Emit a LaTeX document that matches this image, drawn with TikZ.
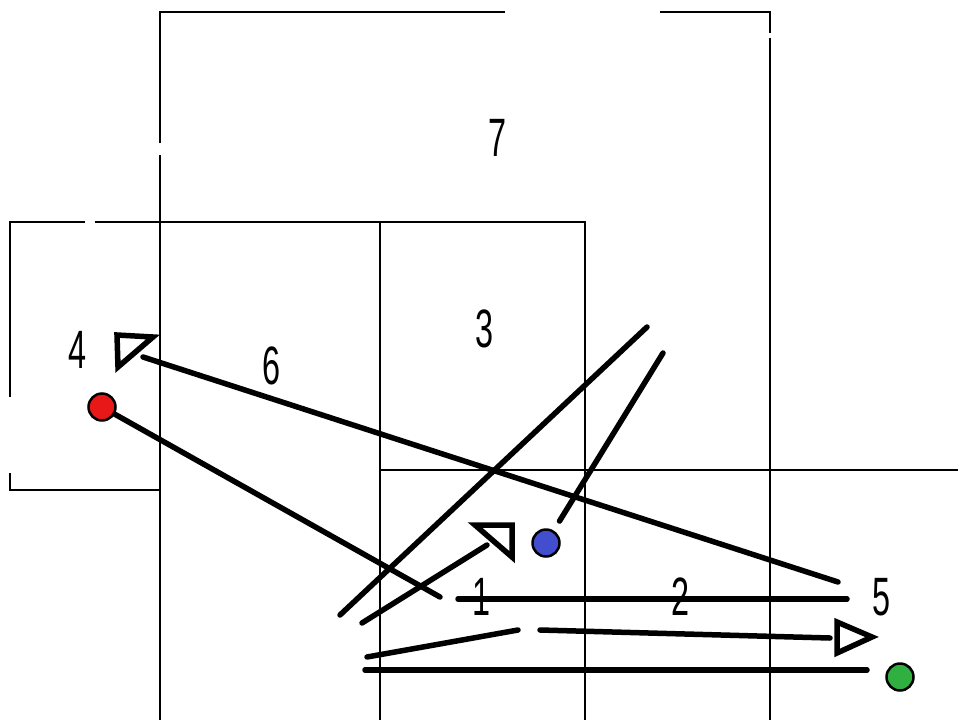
\documentclass[tikz,border=0pt]{standalone}
\usepackage{fontspec}
\setsansfont{Liberation Sans}
\usepackage{tikz}
\usetikzlibrary{positioning}
\definecolor{dotred}{RGB}{232,24,24}
\definecolor{dotblue}{RGB}{66,78,206}
\definecolor{dotgreen}{RGB}{48,176,64}

\begin{document}
\begin{tikzpicture}[x=1pt, y=-1pt,
  grid/.style={line width=1.8pt},
  stroke/.style={line width=5.5pt, line cap=round},
  head/.style={line width=5.5pt, line join=miter},
  numlbl/.style={font=\sffamily\fontsize{54}{60}\selectfont, xscale=0.6, inner sep=0pt},
  dot/.style={circle, draw=black, line width=2.5pt, minimum size=27pt, inner sep=0pt}]
\useasboundingbox (0,0) rectangle (958,720);
% frames
\draw[grid] (160,720) -- (160,155);
\draw[grid] (160,143) -- (160,12) -- (505,12);
\draw[grid, line width=2.5pt] (660,12) -- (770,12) -- (770,33);
\draw[grid] (770,38) -- (770,720);
\draw[grid] (10,397) -- (10,222) -- (85,222);
\draw[grid] (95,222) -- (585,222) -- (585,720);
\draw[grid] (10,473) -- (10,490) -- (160,490);
\draw[grid] (380,720) -- (380,222);
\draw[grid] (380,470) -- (958,470);
% numbers
\foreach \name/\x/\y in {7/498/138, 3/485/329, 4/78/350, 6/272/366, 1/482/597, 2/681/597, 5/881/597} {
  \node[numlbl] (lbl\name) at (\x,\y) {\name};
}
% dots
\node[dot, fill=dotred] (reddot) at (102,407) {};
\node[dot, fill=dotblue] (bluedot) at (546,543) {};
\node[dot, fill=dotgreen] (greendot) at (900,677) {};
% stroke ends
\coordinate (sixa) at (143,357);
\coordinate (sixb) at (838,582);
\coordinate (redend) at (440,597);
\coordinate (blueend) at (663,353);
\coordinate (diaga) at (340,615);
\coordinate (diagb) at (647,327);
\coordinate (upa) at (362,623);
\coordinate (upb) at (487,545);
\coordinate (onea) at (458,599);
\coordinate (twob) at (847,599);
\coordinate (lowa) at (367,657);
\coordinate (lowb) at (518,630);
\coordinate (righta) at (540,630);
\coordinate (rightb) at (830,638);
\coordinate (basea) at (365,670);
\coordinate (baseb) at (867,670);
% strokes
\draw[stroke] (sixb) -- (sixa);
\draw[stroke] (reddot) -- (redend);
\draw[stroke, shorten <=11pt] (bluedot) -- (blueend);
\draw[stroke] (diaga) -- (diagb);
\draw[stroke] (upa) -- (upb);
\draw[stroke] (onea) -- (twob);
\draw[stroke] (lowa) -- (lowb);
\draw[stroke] (righta) -- (rightb);
\draw[stroke] (basea) -- (baseb);
% heads
\draw[head] (117,335) -- (153,337) -- (118,367) -- cycle;
\draw[head] (475,525) -- (512,525) -- (512,557) -- cycle;
\draw[head] (837,622) -- (872,637) -- (837,653) -- cycle;
\end{tikzpicture}
\end{document}
